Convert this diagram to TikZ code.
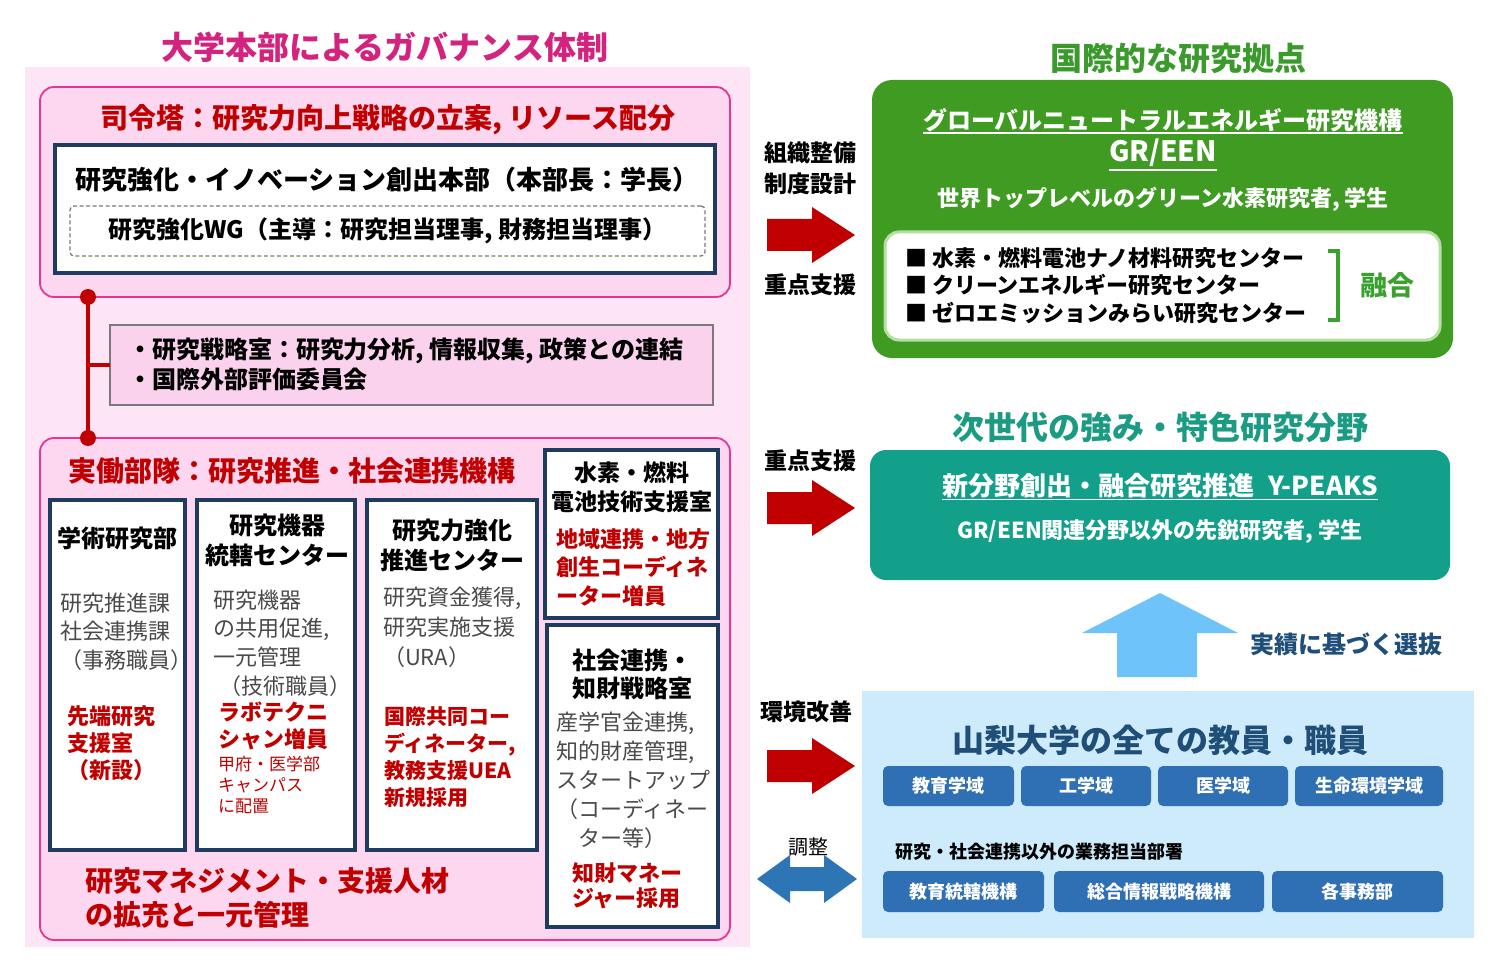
\documentclass[tikz,border=0pt]{standalone}
\usepackage{fontspec}
\setmainfont{Noto Sans CJK JP}
\usetikzlibrary{calc}
\definecolor{pinkbg}{HTML}{FDE5F5}
\definecolor{pinkbox}{HTML}{FDD6EF}
\definecolor{pinkline}{HTML}{E8358F}
\definecolor{magentat}{HTML}{D4237E}
\definecolor{redtxt}{HTML}{C00000}
\definecolor{navy}{HTML}{1F3B60}
\definecolor{graytxt}{HTML}{4A4A4A}
\definecolor{midbox}{HTML}{FBD2EE}
\definecolor{midline}{HTML}{7A7A7A}
\definecolor{greenbox}{HTML}{3F9B22}
\definecolor{greent}{HTML}{3A9A2C}
\definecolor{greenb}{HTML}{3AA12E}
\definecolor{greenedge}{HTML}{B5DFA0}
\definecolor{tealbox}{HTML}{13A08B}
\definecolor{tealt}{HTML}{1B9C82}
\definecolor{lblue}{HTML}{CDEBFB}
\definecolor{navyt}{HTML}{1F4E79}
\definecolor{btnblue}{HTML}{2F6FB3}
\definecolor{arrowred}{HTML}{C00000}
\definecolor{uparrow}{HTML}{6EC3FA}
\definecolor{dblarrow}{HTML}{2E75B6}
\newcommand\redarrow[1]{\fill[arrowred] (767,{#1-16}) -- (812,{#1-16}) -- (812,{#1-28}) -- (855,#1) -- (812,{#1+28}) -- (812,{#1+16}) -- (767,{#1+16}) -- cycle;}
\begin{document}
\begin{tikzpicture}[x=1pt,y=-1pt,
  T/.style={inner sep=0pt,outer sep=0pt},
  fb/.style 2 args={font=\fontsize{#1}{#2}\selectfont\bfseries},
  fr/.style 2 args={font=\fontsize{#1}{#2}\selectfont},
  box/.style={anchor=north west, inner sep=0pt, outer sep=0pt},
  pinkpanel/.style={box, draw=pinkline, line width=1.8pt, fill=pinkbox, rounded corners=14pt},
  navybox/.style={box, draw=navy, line width=4pt, fill=white},
  btn/.style={box, fill=btnblue, rounded corners=5pt, text=white, fb={18}{22}},
  lbl/.style={T, fb={23}{28}},
]
\fill[white] (0,0) rectangle (1500,960);
\path[use as bounding box] (0,0) rectangle (1500,960);

% ---------- left panel ----------
\node[box, fill=pinkbg, minimum width=725pt, minimum height=880pt] (leftbg) at (25,67) {};
\node[T, fb={32}{38}, text=magentat] (ttl) at (385,47) {大学本部によるガバナンス体制};

\node[pinkpanel, minimum width=690pt, minimum height=210pt] (cmd) at (40,87) {};
\node[T, fb={28}{32}, text=redtxt] (cmdt) at (388,120) {司令塔：研究力向上戦略の立案, リソース配分};
\node[navybox, minimum width=660pt, minimum height=128pt] (hq) at (55,145) {};
\node[T, fb={26}{30}, anchor=west] (hqt) at (75,180) {研究強化・イノベーション創出本部（本部長：学長）};
\node[box, draw=midline, dash pattern=on 4pt off 2.5pt, line width=1.3pt, rounded corners=4pt, minimum width=635pt, minimum height=50pt] (wg) at (70,206) {};
\node[T, fb={24}{28}] (wgt) at (wg.center) {研究強化WG（主導：研究担当理事, 財務担当理事）};

\node[box, draw=midline, line width=1.5pt, fill=midbox, minimum width=603pt, minimum height=80pt] (mid) at (110,325) {};
\node[T, fb={24}{30}, anchor=west, align=left] (midt) at (128,364) {・研究戦略室：研究力分析, 情報収集, 政策との連結\\・国際外部評価委員会};

\node[pinkpanel, minimum width=690pt, minimum height=502pt] (work) at (40,438) {};

\coordinate (c1) at ([xshift=48pt]cmd.south west);
\coordinate (c2) at ([xshift=48pt]work.north west);
\draw[redtxt, line width=4pt] (c1) -- (c2);
\draw[redtxt, line width=4pt] (c1 |- mid.west) -- (mid.west);
\fill[redtxt] (c1) circle (8pt);
\fill[redtxt] (c2) circle (8pt);

\node[T, fb={28}{32}, text=redtxt, anchor=west] (workt) at (68,471) {実働部隊：研究推進・社会連携機構};

% column 1
\node[navybox, minimum width=135pt, minimum height=350pt] (col1) at (50,500) {};
\node[T, fb={24}{29}] (col1h) at (117,538) {学術研究部};
\node[T, fr={22}{28.5}, text=graytxt, anchor=west, align=left] (col1g) at (60,631.5) {研究推進課\\社会連携課\\（事務職員）};
\node[T, fb={22}{27}, text=redtxt, anchor=west, align=left] (col1r) at (67,743) {先端研究\\支援室\\（新設）};

% column 2
\node[navybox, minimum width=158pt, minimum height=350pt] (col2) at (197,500) {};
\node[T, fb={24}{30}, align=center] (col2h) at (277,540) {研究機器\\統轄センター};
\node[T, fr={22}{28.7}, text=graytxt, anchor=west, align=left] (col2g) at (213,643) {研究機器\\の共用促進,\\一元管理\\\hspace*{6pt}（技術職員）};
\node[T, fb={22}{27}, text=redtxt, anchor=west, align=left] (col2r) at (218,725.5) {ラボテクニ\\シャン増員};
\node[T, fr={17}{21}, text=redtxt, anchor=west, align=left] (col2s) at (218,785) {甲府・医学部\\キャンパス\\に配置};

% column 3
\node[navybox, minimum width=170pt, minimum height=350pt] (col3) at (367,500) {};
\node[T, fb={24}{30}, align=center] (col3h) at (452,545) {研究力強化\\推進センター};
\node[T, fr={22}{30}, text=graytxt, anchor=west, align=left] (col3g) at (383,627) {研究資金獲得,\\研究実施支援\\（URA）};
\node[T, fb={21}{27}, text=redtxt, anchor=west, align=left] (col3r) at (384,757.5) {国際共同コー\\ディネーター,\\教務支援UEA\\新規採用};

% box 4
\node[navybox, minimum width=173pt, minimum height=168pt] (col4) at (545,450) {};
\node[T, fb={23}{29}, align=center] (col4h) at (632,487.5) {水素・燃料\\電池技術支援室};
\node[T, fb={22}{28.5}, text=redtxt, anchor=west, align=left] (col4r) at (556,567.5) {地域連携・地方\\創生コーディネ\\ーター増員};

% box 5
\node[navybox, minimum width=171pt, minimum height=302pt] (col5) at (547,625) {};
\node[T, fb={24}{28}, align=left] (col5h) at (632,674) {社会連携・\\知財戦略室};
\node[T, fr={22}{29}, text=graytxt, anchor=west, align=left] (col5g) at (556,780) {産学官金連携,\\知的財産管理,\\スタートアップ\\（コーディネー\\\hspace*{22pt}ター等）};
\node[T, fb={22}{25}, text=redtxt, anchor=west, align=left] (col5r) at (572,885.5) {知財マネー\\ジャー採用};

\node[T, fb={28}{34}, text=redtxt, anchor=west, align=left] (bott) at (85,898) {研究マネジメント・支援人材\\の拡充と一元管理};

% ---------- right side ----------
\node[T, fb={32}{38}, text=greent] (glt) at (1178,58) {国際的な研究拠点};
\node[box, fill=greenbox, rounded corners=20pt, minimum width=581pt, minimum height=278pt] (green) at (872,80) {};
\node[T, fb={24}{28}, text=white] (gn1) at (1163,120) {グローバルニュートラルエネルギー研究機構};
\draw[white, line width=1.5pt] ([yshift=-1pt]gn1.south west) -- ([yshift=-1pt]gn1.south east);
\node[T, fb={28}{32}, text=white] (gn2) at (1163,153) {GR/EEN};
\draw[white, line width=1.5pt] ([yshift=-3pt]gn2.south west) -- ([yshift=-3pt]gn2.south east);
\node[T, fb={22}{26}, text=white] (gn3) at (1163,199) {世界トップレベルのグリーン水素研究者, 学生};
\node[box, fill=white, draw=greenedge, line width=3pt, rounded corners=14pt, minimum width=555pt, minimum height=108pt] (gin) at (885,232) {};
\node[T, fb={22}{27.5}, anchor=west, align=left] (gitems) at (905,285.5) {■ 水素・燃料電池ナノ材料研究センター\\■ クリーンエネルギー研究センター\\■ ゼロエミッションみらい研究センター};
\coordinate (br1) at (1328,251);
\coordinate (br2) at (1328,320);
\draw[greenb, line width=4pt] (br1) -- ++(10,0) |- (br2);
\node[T, fb={27}{32}, text=greenb] (fusion) at (1387,285) {融合};

\node[lbl] (l1) at (810,153) {組織整備};
\node[lbl] (l2) at (810,184) {制度設計};
\redarrow{235}
\node[lbl] (l3) at (810,285) {重点支援};

\node[T, fb={32}{38}, text=tealt] (tlt) at (1160,427) {次世代の強み・特色研究分野};
\node[box, fill=tealbox, rounded corners=16pt, minimum width=580pt, minimum height=130pt] (teal) at (870,450) {};
\node[T, fb={26}{30}, text=white] (tn1) at (1160,486) {新分野創出・融合研究推進\hspace{14pt}Y-PEAKS};
\draw[white, line width=1.5pt] ([yshift=-1pt]tn1.south west) -- ([yshift=-1pt]tn1.south east);
\node[T, fb={22}{26}, text=white] (tn2) at (1160,532) {GR/EEN関連分野以外の先鋭研究者, 学生};

\node[lbl] (l4) at (810,461) {重点支援};
\redarrow{508}

\fill[uparrow] (1082,633) -- (1160,593) -- (1238,633) -- (1197,633) -- (1197,677) -- (1117,677) -- (1117,633) -- cycle;
\node[T, fb={24}{28}, text=navyt] (sel) at (1346,644) {実績に基づく選抜};

\node[box, fill=lblue, minimum width=612pt, minimum height=247pt] (staff) at (862,691) {};
\node[T, fb={32}{38}, text=navyt] (stt) at (1160,740) {山梨大学の全ての教員・職員};
\node[btn, minimum width=131pt, minimum height=40pt] (b1) at (883,766) {教育学域};
\node[btn, minimum width=130pt, minimum height=40pt] (b2) at (1021,766) {工学域};
\node[btn, minimum width=130pt, minimum height=40pt] (b3) at (1158,766) {医学域};
\node[btn, minimum width=148pt, minimum height=40pt] (b4) at (1295,766) {生命環境学域};
\node[T, fb={18}{22}, anchor=west] (other) at (895,852) {研究・社会連携以外の業務担当部署};
\node[btn, minimum width=161pt, minimum height=41pt] (b5) at (883,871) {教育統轄機構};
\node[btn, minimum width=210pt, minimum height=41pt] (b6) at (1054,871) {総合情報戦略機構};
\node[btn, minimum width=171pt, minimum height=41pt] (b7) at (1272,871) {各事務部};

\node[lbl] (l5) at (806,712) {環境改善};
\redarrow{766}
\node[T, fr={20}{24}] (l6) at (808,847) {調整};
\fill[dblarrow] (757,879) -- (790,855) -- (790,867) -- (824,867) -- (824,855) -- (857,879) -- (824,903) -- (824,891) -- (790,891) -- (790,903) -- cycle;
\end{tikzpicture}
\end{document}
